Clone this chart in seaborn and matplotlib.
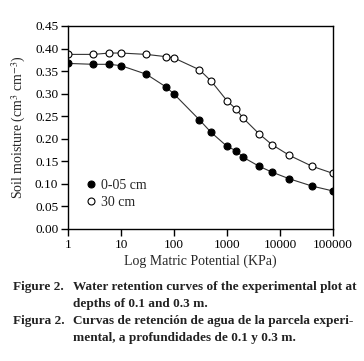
import numpy as np
import pandas as pd
import seaborn as sns
import matplotlib.pyplot as plt
from matplotlib.lines import Line2D
from matplotlib.ticker import FixedLocator, NullLocator

# matric potential (KPa) and soil moisture
potential = [1, 3, 6, 10, 30, 70, 100, 300, 500, 1000, 1500, 2000, 4000, 7000, 15000, 40000, 100000]
moist_0_05 = [0.367, 0.365, 0.365, 0.362, 0.343, 0.315, 0.299, 0.242, 0.214, 0.183, 0.173,
              0.159, 0.139, 0.126, 0.111, 0.095, 0.084]
moist_30 = [0.387, 0.387, 0.390, 0.390, 0.387, 0.382, 0.379, 0.353, 0.328, 0.284, 0.265,
            0.246, 0.211, 0.187, 0.163, 0.139, 0.123]
labels = ["0-05 cm", "30 cm"]
x_ticks = [1, 10, 100, 1000, 10000, 100000]
y_ticks = [0.00, 0.05, 0.10, 0.15, 0.20, 0.25, 0.30, 0.35, 0.40, 0.45]

df = pd.concat([
    pd.DataFrame({"potential": potential, "moisture": moist_0_05, "depth": labels[0]}),
    pd.DataFrame({"potential": potential, "moisture": moist_30, "depth": labels[1]}),
])

sns.set_theme(style="ticks")
plt.rcParams["font.family"] = ["Liberation Serif", "DejaVu Serif"]
plt.rcParams["mathtext.fontset"] = "stix"

fig = plt.figure(figsize=(3.64, 3.61), dpi=100)
ax = fig.add_axes([0.187, 0.366, 0.728, 0.562])

fills = {labels[0]: "black", labels[1]: "white"}
for lab in labels:
    sns.lineplot(
        data=df[df["depth"] == lab], x="potential", y="moisture", ax=ax,
        color="#333333", linewidth=0.8, marker="o", markersize=5,
        markerfacecolor=fills[lab], markeredgecolor="black", markeredgewidth=0.8,
    )

ax.set_xscale("log")
ax.set_xlim(1, 100000)
ax.set_ylim(0, 0.45)
ax.xaxis.set_major_locator(FixedLocator(x_ticks))
ax.xaxis.set_minor_locator(NullLocator())
ax.set_xticklabels([str(t) for t in x_ticks])
ax.set_yticks(y_ticks)
ax.set_yticklabels([f"{t:.2f}" for t in y_ticks])
ax.tick_params(axis="both", labelsize=9.5, direction="out", length=5, width=1, colors="black", pad=2)
for s in ax.spines.values():
    s.set_linewidth(1)
    s.set_color("black")

ax.set_xlabel("Log Matric Potential (KPa)", fontsize=10, labelpad=3)
ax.set_ylabel("Soil moisture (cm$^3$ cm$^{-3}$)", fontsize=10, labelpad=5)

handles = [
    Line2D([], [], linestyle="none", marker="o", markersize=5, markerfacecolor=fills[lab],
           markeredgecolor="black", markeredgewidth=0.8)
    for lab in labels
]
ax.legend(handles, labels, loc="lower left", bbox_to_anchor=(0.02, 0.05), frameon=False,
          fontsize=10, handletextpad=0.1, handlelength=1.2, labelspacing=0.3, borderpad=0.2)

cap = dict(fontsize=9.5, fontweight="bold", va="baseline", color="#222222")
fig.text(0.036, 1 - 290 / 361, "Figure 2.", **cap)
fig.text(0.2, 1 - 290 / 361, "Water retention curves of the experimental plot at", **cap)
fig.text(0.2, 1 - 307 / 361, "depths of 0.1 and 0.3 m.", **cap)
fig.text(0.036, 1 - 324 / 361, "Figura 2.", **cap)
fig.text(0.2, 1 - 324 / 361, "Curvas de retención de agua de la parcela experi-", **cap)
fig.text(0.2, 1 - 341 / 361, "mental, a profundidades de 0.1 y 0.3 m.", **cap)

fig.savefig("out.png", dpi=100)
